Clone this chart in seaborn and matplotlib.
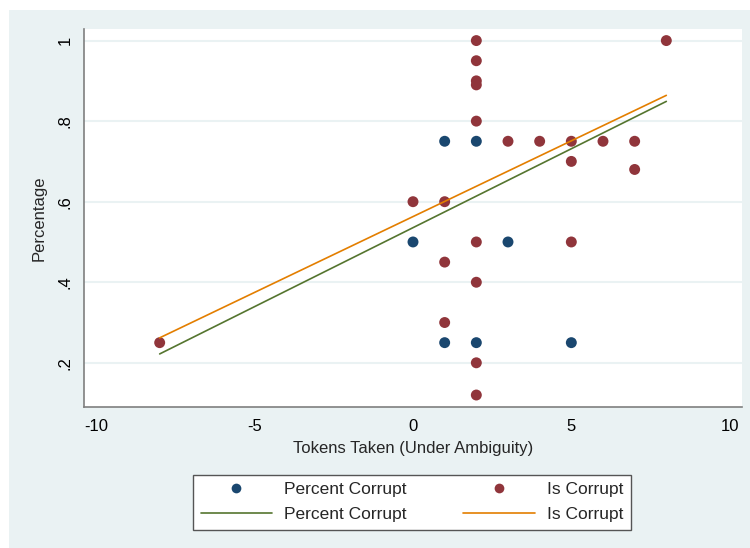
# ---------------------------------------------------------------------------------------------------------------------------
# Import Required Modules
# ---------------------------------------------------------------------------------------------------------------------------

import pandas as pd
import seaborn as sns
import matplotlib.pyplot as plt
from matplotlib.patches import Rectangle
from matplotlib.lines import Line2D


# ---------------------------------------------------------------------------------------------------------------------------
# Data
# ---------------------------------------------------------------------------------------------------------------------------

pc_x = [0, 1, 1, 2, 2, 3, 5]
pc_y = [0.5, 0.75, 0.25, 0.75, 0.25, 0.5, 0.25]

ic_x = [-8, 0, 1, 1, 1, 2, 2, 2, 2, 2, 2, 2, 2, 2, 3, 4, 5, 5, 5, 6, 7, 7, 8]
ic_y = [0.25, 0.6, 0.6, 0.45, 0.3, 1.0, 0.95, 0.9, 0.89, 0.8, 0.5, 0.4, 0.2, 0.12,
        0.75, 0.75, 0.75, 0.7, 0.5, 0.75, 0.75, 0.68, 1.0]

# linear fit lines (endpoints of lfit over the range of x)
fit_x = [-8, 8]
fit_pc = [0.222, 0.849]
fit_ic = [0.262, 0.864]

x_ticks = [-10, -5, 0, 5, 10]
y_ticks = [0.2, 0.4, 0.6, 0.8, 1.0]
y_tick_labels = [".2", ".4", ".6", ".8", "1"]

series_names = ["Percent Corrupt", "Is Corrupt"]


# ---------------------------------------------------------------------------------------------------------------------------
# Colours / Style (Stata s2color look)
# ---------------------------------------------------------------------------------------------------------------------------

BLUE = "#1a476f"
RED = "#90353b"
GREEN = "#55752f"
ORANGE = "#e37e00"
PANEL = "#eaf2f3"
AXIS = "#7f7f7f"

sns.set_style("white")
plt.rcParams['font.family'] = ['Liberation Sans', 'DejaVu Sans']


# ---------------------------------------------------------------------------------------------------------------------------
# Build Figure
# ---------------------------------------------------------------------------------------------------------------------------

fig = plt.figure(figsize=(7.5, 5.48), dpi=100, facecolor="white")

# outer light panel (graph region), kept behind the axes
fig.patches.append(Rectangle((9 / 750, 0), 1, (548 - 10) / 548, transform=fig.transFigure,
                             facecolor=PANEL, edgecolor="none", zorder=-10))

ax = fig.add_axes([84 / 750, (548 - 406.7) / 548, (742 - 84) / 750, (406.7 - 29.3) / 548])
ax.set_facecolor("white")
ax.set_zorder(1)


# scatter points :
# ----------------

pts = pd.DataFrame({
    "x": pc_x + ic_x,
    "y": pc_y + ic_y,
    "series": [series_names[0]] * len(pc_x) + [series_names[1]] * len(ic_x),
})

sns.scatterplot(data=pts, x="x", y="y", hue="series", palette=[BLUE, RED],
                s=62, edgecolor="none", legend=False, ax=ax, zorder=3)


# fit lines :
# -----------

fits = pd.DataFrame({
    "x": fit_x + fit_x,
    "y": fit_pc + fit_ic,
    "series": [series_names[0]] * len(fit_x) + [series_names[1]] * len(fit_x),
})

sns.lineplot(data=fits, x="x", y="y", hue="series", palette=[GREEN, ORANGE],
             linewidth=1.2, legend=False, ax=ax, zorder=4)


# axes :
# ------

ax.set_xlim(-10.39, 10.39)
ax.set_ylim(0.091, 1.028)

ax.set_xticks(x_ticks)
ax.set_xticklabels([str(t) for t in x_ticks])
ax.set_yticks(y_ticks)
ax.set_yticklabels(y_tick_labels, rotation=90, va="center")

ax.tick_params(axis="both", direction="out", length=5, width=1, color=AXIS,
               labelsize=12, labelcolor="black", pad=4)
ax.tick_params(axis="y", pad=3)

ax.yaxis.grid(True, color=PANEL, linewidth=1.5)
ax.xaxis.grid(False)
ax.set_axisbelow(True)

for side in ["top", "right"]:
    ax.spines[side].set_visible(False)

for side in ["left", "bottom"]:
    ax.spines[side].set_color(AXIS)
    ax.spines[side].set_linewidth(1.2)

ax.set_xlabel("Tokens Taken (Under Ambiguity)", fontsize=12, labelpad=5)
ax.set_ylabel("Percentage", fontsize=12, labelpad=8)


# legend :
# --------

handles = [
    Line2D([], [], linestyle="none", marker="o", markersize=7, color=BLUE, markeredgewidth=0),
    Line2D([], [], color=GREEN, linewidth=1.2),
    Line2D([], [], linestyle="none", marker="o", markersize=7, color=RED, markeredgewidth=0),
    Line2D([], [], color=ORANGE, linewidth=1.2),
]
labels = [series_names[0], series_names[0], series_names[1], series_names[1]]

leg = fig.legend(handles, labels, ncol=2, loc="lower left",
                 bbox_to_anchor=(193 / 750, (548 - 530) / 548, (631 - 193) / 750, (530 - 468) / 548),
                 mode="expand", fontsize=12.5, frameon=True, fancybox=False, framealpha=1,
                 handlelength=4.1, handletextpad=0.7, columnspacing=2.5,
                 labelspacing=0.55, borderpad=0.45, borderaxespad=0)

leg.get_frame().set_edgecolor("#555555")
leg.get_frame().set_linewidth(1.0)
leg.get_frame().set_facecolor("white")


# ---------------------------------------------------------------------------------------------------------------------------
# Save
# ---------------------------------------------------------------------------------------------------------------------------

fig.savefig("out.png", dpi=100, facecolor="white")
